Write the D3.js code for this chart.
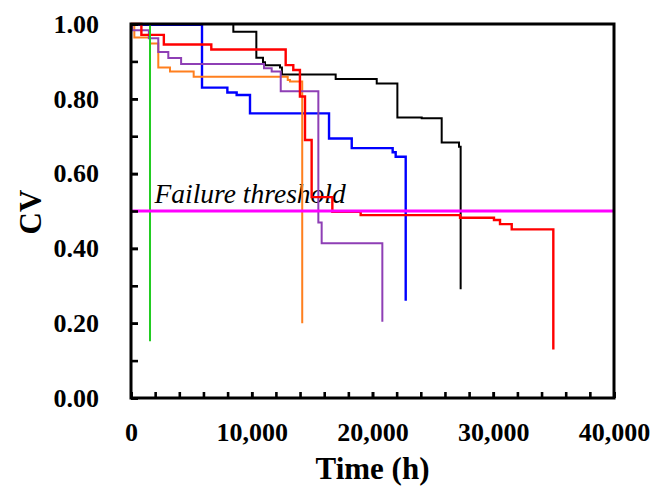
<!DOCTYPE html>
<html>
<head>
<meta charset="utf-8">
<script src="https://cdn.jsdelivr.net/npm/d3@7"></script>
<style>
  html, body { margin: 0; padding: 0; background: #fff; }
  svg { display: block; }
</style>
</head>
<body>
<script>
// CV versus operating time for six units (step curves), with the failure threshold.
const black  = [[0,1.0],[8475,0.979],[10380,0.910],[10930,0.898],[11100,0.890],[12340,0.884],[12500,0.865],[16950,0.853],[20350,0.841],[22060,0.750],[24075,0.748],[25730,0.683],[27165,0.672],[27300,0.291]];
const blue   = [[0,0.998],[5880,0.830],[7980,0.817],[8750,0.810],[9855,0.761],[16400,0.694],[18280,0.668],[21670,0.657],[21920,0.645],[22750,0.260]];
const orange = [[0,1.0],[275,0.964],[1574,0.948],[2260,0.884],[3230,0.873],[5190,0.859],[12980,0.850],[13170,0.846],[14180,0.200]];
const purple = [[0,1.0],[100,0.983],[1480,0.962],[2260,0.925],[3090,0.909],[4150,0.893],[11015,0.882],[11650,0.873],[12400,0.820],[15515,0.469],[15790,0.414],[20815,0.204]];
const red    = [[0,1.0],[860,0.971],[2720,0.945],[6650,0.932],[12810,0.890],[13440,0.877],[13990,0.806],[14410,0.690],[14960,0.537],[16675,0.498],[19020,0.489],[27250,0.482],[30060,0.476],[30560,0.465],[31530,0.451],[34975,0.130]];
const green  = [[0,1.0],[1574,0.152]];

const threshold = 0.5;
const thresholdLabel = "Failure threshold";
const xMajorTicks = [0, 10000, 20000, 30000, 40000];
const xMinorTicks = d3.range(0, 40001, 2000);
const yMajorTicks = [0, 0.2, 0.4, 0.6, 0.8, 1.0];
const yMinorTicks = d3.range(0, 1.0001, 0.1);

const series = [
  { data: black,  color: "#000000", width: 2 },
  { data: blue,   color: "#0000ff", width: 2.4 },
  { data: orange, color: "#ff7f1e", width: 2 },
  { data: purple, color: "#8e3fb5", width: 2 },
  { data: red,    color: "#ff0000", width: 2.4 },
  { data: green,  color: "#22cc22", width: 2 }
];

const SERIF = "'Liberation Serif', 'Times New Roman', serif";
const W = 654, H = 489;
const m = { left: 131, right: 40, top: 24, bottom: 91 };
const iw = W - m.left - m.right, ih = H - m.top - m.bottom;

const svg = d3.select("body").append("svg").attr("width", W).attr("height", H);
const g = svg.append("g").attr("transform", `translate(${m.left},${m.top})`);

const x = d3.scaleLinear().domain([0, 40000]).range([0, iw]);
const y = d3.scaleLinear().domain([0, 1]).range([ih, 0]);

// threshold label
g.append("text")
  .attr("x", x(1950)).attr("y", y(threshold) - 8)
  .style("font-family", SERIF)
  .attr("font-size", 27.5).attr("font-style", "italic")
  .text(thresholdLabel);

// step curves
const line = d3.line().x(d => x(d[0])).y(d => y(d[1])).curve(d3.curveStepAfter);
g.selectAll("path.s").data(series).join("path")
  .attr("class", "s")
  .attr("d", d => line(d.data))
  .attr("fill", "none")
  .attr("stroke", d => d.color)
  .attr("stroke-width", d => d.width)
  .attr("stroke-linejoin", "miter");

// failure threshold line
g.append("line")
  .attr("x1", x(0)).attr("x2", x(40000))
  .attr("y1", y(threshold)).attr("y2", y(threshold))
  .attr("stroke", "#ff00ff").attr("stroke-width", 3);

// axes: minor ticks, then labelled major ticks, all pointing inward
function style(sel) {
  sel.select(".domain").remove();
  sel.attr("font-family", null);
  sel.selectAll(".tick line").attr("stroke", "#000").attr("stroke-width", 2.6);
  sel.selectAll(".tick text").attr("fill", "#000")
    .style("font-family", SERIF).style("font-weight", "bold").style("font-size", "26px");
}
g.append("g").attr("transform", `translate(0,${ih})`)
  .call(d3.axisBottom(x).tickValues(xMinorTicks).tickFormat("").tickSize(-6)).call(style);
g.append("g").attr("transform", `translate(0,${ih})`)
  .call(d3.axisBottom(x).tickValues(xMajorTicks).tickFormat(d3.format(",")).tickSize(-6).tickPadding(25)).call(style);
g.append("g")
  .call(d3.axisLeft(y).tickValues(yMinorTicks).tickFormat("").tickSize(-7)).call(style);
g.append("g")
  .call(d3.axisLeft(y).tickValues(yMajorTicks).tickFormat(d3.format(".2f")).tickSize(-7).tickPadding(32)).call(style);

// frame
g.append("rect").attr("x", 0).attr("y", 0).attr("width", iw).attr("height", ih)
  .attr("fill", "none").attr("stroke", "#000").attr("stroke-width", 3);

// axis titles
svg.append("text")
  .attr("x", m.left + iw / 2).attr("y", 479)
  .attr("text-anchor", "middle")
  .style("font-family", SERIF).style("font-weight", "bold").style("font-size", "31px")
  .text("Time (h)");
svg.append("text")
  .attr("transform", `translate(41,212) rotate(-90)`)
  .attr("text-anchor", "middle")
  .style("font-family", SERIF).style("font-weight", "bold").style("font-size", "31px")
  .text("CV");
</script>
</body>
</html>
